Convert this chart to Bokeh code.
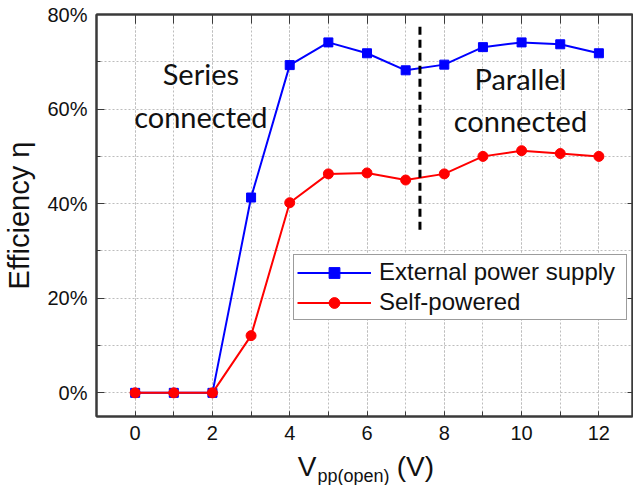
from bokeh.plotting import figure
from bokeh.layouts import column
from bokeh.models import (Range1d, LinearAxis, SingleIntervalTicker, FixedTicker,
                          PrintfTickFormatter, CustomJSTickFormatter, Label, Legend,
                          LegendItem)
from bokeh.core.properties import value
from bokeh.embed import file_html
from bokeh.resources import INLINE

# Open-circuit peak-to-peak voltage (V)
v_open = [0, 1, 2, 3, 4, 5, 6, 7, 8, 9, 10, 11, 12]
# Efficiency (%) for each supply mode
eff_external = [0, 0, 0, 41.3, 69.3, 74.1, 71.8, 68.2, 69.4, 73.1, 74.1, 73.7, 71.8]
eff_self = [0, 0, 0, 12.1, 40.2, 46.3, 46.5, 45.0, 46.3, 50.0, 51.2, 50.6, 50.0]

# Switch-over between series and parallel connection
divider_x = [7.37, 7.37]
divider_y = [34.5, 77.5]

y_ticks = [0, 20, 40, 60, 80]
y_minor = [10, 30, 50, 70]

AX = "#3a3a3a"
GRID = "#bdbdbd"
INK = "#111111"
NUM_FONT = "Liberation Sans"

x_range = Range1d(-1, 12.87)

p = figure(width=633, height=448, output_backend="svg", toolbar_location=None,
           x_range=x_range, y_range=Range1d(-5, 80),
           min_border_left=96, min_border_right=1, min_border_top=14,
           min_border_bottom=32)
p.background_fill_color = "white"
p.border_fill_color = "white"
p.outline_line_color = AX
p.outline_line_width = 2

xt = SingleIntervalTicker(interval=2, num_minor_ticks=2)
yt = FixedTicker(ticks=y_ticks, minor_ticks=y_minor)

# bottom axis
xa = p.xaxis[0]
xa.ticker = xt
xa.major_tick_in = 5
xa.major_tick_out = 0
xa.minor_tick_in = 5
xa.minor_tick_out = 0
xa.major_label_standoff = 9
xa.major_label_text_font = NUM_FONT
xa.major_label_text_font_size = "20px"
xa.major_label_text_color = INK
xa.axis_line_color = AX
xa.axis_line_width = 2
xa.major_tick_line_color = AX
xa.minor_tick_line_color = AX

# left axis
ya = p.yaxis[0]
ya.ticker = yt
ya.formatter = PrintfTickFormatter(format="%d%%")
ya.major_tick_in = 8
ya.major_tick_out = 0
ya.minor_tick_in = 4
ya.minor_tick_out = 0
ya.major_label_standoff = 9
ya.major_label_text_font = NUM_FONT
ya.major_label_text_font_size = "20px"
ya.major_label_text_color = INK
ya.axis_line_color = AX
ya.axis_line_width = 2
ya.major_tick_line_color = AX
ya.minor_tick_line_color = AX
ya.axis_label = "Efficiency \u03b7"
ya.axis_label_text_font = NUM_FONT
ya.axis_label_text_font_size = "29px"
ya.axis_label_text_font_style = "normal"
ya.axis_label_text_color = INK
ya.axis_label_standoff = 9

# mirrored tick marks on top and right, without labels
blank = CustomJSTickFormatter(code="return ''")
top = LinearAxis(ticker=xt, formatter=blank, major_tick_in=9,
                 major_tick_out=0, minor_tick_in=9, minor_tick_out=0,
                 major_label_standoff=0, axis_line_color=AX, axis_line_width=2,
                 major_tick_line_color=AX, minor_tick_line_color=AX)
right = LinearAxis(ticker=FixedTicker(ticks=y_ticks), formatter=blank,
                   major_tick_in=5, major_tick_out=0, minor_tick_in=0, minor_tick_out=0,
                   major_label_standoff=0, axis_line_color=AX, axis_line_width=2,
                   major_tick_line_color=AX)
p.add_layout(top, "above")
p.add_layout(right, "right")

# dotted grid at every major and minor tick
for g in (p.xgrid[0], p.ygrid[0]):
    g.grid_line_color = GRID
    g.grid_line_dash = "2 2"
    g.minor_grid_line_color = GRID
    g.minor_grid_line_dash = "2 2"
p.xgrid[0].ticker = xt
p.ygrid[0].ticker = yt

# series
l1 = p.line(v_open, eff_external, line_color="#0000ff", line_width=2)
s1 = p.scatter(v_open, eff_external, marker="square", size=9,
               fill_color="#0000ff", line_color="#0000ff")
l2 = p.line(v_open, eff_self, line_color="#ff0000", line_width=2)
s2 = p.scatter(v_open, eff_self, marker="circle", size=10,
               fill_color="#ff0000", line_color="#ff0000")

p.line(divider_x, divider_y, line_color="black", line_width=3, line_dash="8 5")

legend = Legend(items=[LegendItem(label="External power supply", renderers=[l1, s1]),
                       LegendItem(label="Self-powered", renderers=[l2, s2])],
                location=(197, 96), orientation="vertical",
                label_text_font=NUM_FONT, label_text_font_size="24px",
                label_text_color=INK, label_text_baseline="middle",
                glyph_width=74, glyph_height=27, label_height=27, label_width=244,
                label_standoff=8, padding=3, spacing=2, margin=0,
                border_line_color=AX, border_line_width=1,
                background_fill_alpha=1.0)
p.add_layout(legend)

# region annotations
TXT_FONT = "Lato"
for x, y, t in [(1.7, 67.5, "Series"), (1.7, 58.4, "connected"),
                (9.97, 66.4, "Parallel"), (9.97, 57.6, "connected")]:
    p.add_layout(Label(x=x, y=y, text=t, text_align="center", text_baseline="middle",
                       text_font=TXT_FONT, text_font_size="29px", text_color=INK))

# x-axis title strip with subscript: V_pp(open) (V), placed on the shared voltage scale
title_x = [4.21, 4.72, 6.77]
title_y = [19, 10, 19]
title_txt = ["V", "pp(open)", "(V)"]
title_size = ["28px", "18px", "28px"]

q = figure(width=633, height=37, output_backend="svg", toolbar_location=None,
           x_range=x_range, y_range=Range1d(0, 37),
           min_border_left=96, min_border_right=1, min_border_top=0,
           min_border_bottom=0, outline_line_color=None)
q.axis.visible = False
q.grid.visible = False
q.background_fill_color = "white"
q.border_fill_color = "white"
q.text(x=title_x, y=title_y, text=title_txt, text_font_size=title_size,
       text_font=value(NUM_FONT), text_color=INK, text_baseline="alphabetic",
       text_align="left")

layout = column(p, q, spacing=0)
open("out.html", "w").write(file_html(layout, INLINE))
